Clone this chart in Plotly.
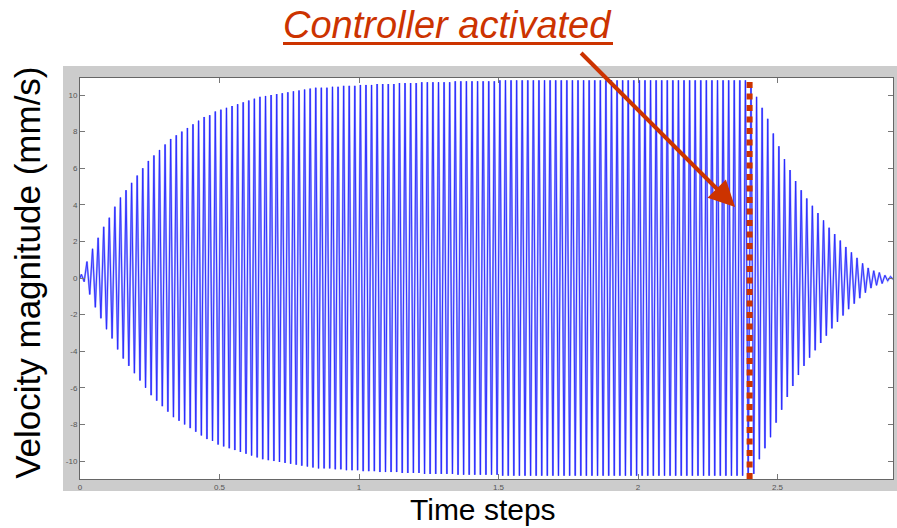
import numpy as np
import plotly.graph_objects as go

# ---------------- data ----------------
# oscillation period (about 50 cycles per time unit)
period = 0.02
# peak amplitude of each cycle (mm/s), read from the envelope
peak_amplitude = [
    0.2, 0.9, 1.6, 2.2, 2.8, 3.3, 3.9, 4.4, 4.8, 5.2,
    5.6, 6.0, 6.4, 6.7, 7.0, 7.3, 7.6, 7.8, 8.0, 8.2,
    8.4, 8.6, 8.8, 8.9, 9.1, 9.2, 9.3, 9.4, 9.5, 9.6,
    9.7, 9.8, 9.9, 9.95, 10.0, 10.05, 10.1, 10.15, 10.2, 10.25,
    10.3, 10.35, 10.4, 10.4, 10.4, 10.45, 10.45, 10.5, 10.5, 10.5,
    10.55, 10.55, 10.55, 10.6, 10.6, 10.6, 10.6, 10.65, 10.65, 10.65,
    10.65, 10.7, 10.7, 10.7, 10.7, 10.7, 10.7, 10.75, 10.75, 10.75,
    10.75, 10.75, 10.75, 10.75, 10.75, 10.8, 10.8, 10.8, 10.8, 10.8,
    10.8, 10.8, 10.8, 10.8, 10.8, 10.8, 10.8, 10.8, 10.8, 10.8,
    10.8, 10.8, 10.8, 10.8, 10.8, 10.8, 10.8, 10.8, 10.8, 10.8,
    10.8, 10.8, 10.8, 10.8, 10.8, 10.8, 10.8, 10.8, 10.8, 10.8,
    10.8, 10.8, 10.8, 10.8, 10.8, 10.8, 10.8, 10.8, 10.8, 10.8,
    10.7, 9.9, 9.3, 8.7, 7.9, 7.2, 6.5, 5.9, 5.3, 4.8,
    4.35, 3.95, 3.55, 3.15, 2.75, 2.4, 2.05, 1.7, 1.4, 1.1,
    0.8, 0.55, 0.4, 0.3, 0.15, 0.08,
]
controller_time = 2.4

x_tick_values = [0, 0.5, 1, 1.5, 2, 2.5]
x_tick_labels = ["0", "0.5", "1", "1.5", "2", "2.5"]
y_tick_values = [-10, -8, -6, -4, -2, 0, 2, 4, 6, 8, 10]
y_tick_labels = ["-10", "-8", "-6", "-4", "-2", "0", "2", "4", "6", "8", "10"]
x_range = [0, 2.914]
y_range = [-10.98, 10.93]

title_text = "Controller activated"
x_title = "Time steps"
y_title = "Velocity magnitude (mm/s)"

# ---------------- build the signal (peak / trough per cycle) ----------------
amp = np.array(peak_amplitude)
k = np.arange(len(amp))
t = np.empty(2 * len(amp) + 1)
v = np.empty(2 * len(amp) + 1)
t[0], v[0] = 0.0, 0.0
t[1::2] = (k + 0.25) * period
v[1::2] = amp
t[2::2] = (k + 0.75) * period
v[2::2] = -amp

ACC = "#CC3300"
FONT = "Liberation Sans, Arial, Helvetica, sans-serif"

fig = go.Figure()
# soft light-blue body of the dense oscillation
fig.add_trace(go.Scatter(
    x=t, y=v, mode="lines",
    line=dict(color="rgb(160,165,255)", width=2.0),
    hoverinfo="skip", showlegend=False,
))
# sharp blue strokes on top
fig.add_trace(go.Scatter(
    x=t, y=v, mode="lines",
    line=dict(color="rgb(40,40,255)", width=0.9),
    hoverinfo="skip", showlegend=False,
))

axis_common = dict(
    showgrid=False, zeroline=False, showline=True, linecolor="#666666",
    linewidth=1, mirror="ticks", ticks="inside", ticklen=5, tickwidth=1,
    tickcolor="#777777", tickfont=dict(family=FONT, size=8, color="#555555"),
)

fig.update_layout(
    width=897, height=528,
    margin=dict(l=80, r=4, t=78, b=49),
    paper_bgcolor="white", plot_bgcolor="white",
    xaxis=dict(range=x_range, tickvals=x_tick_values, ticktext=x_tick_labels,
               **axis_common),
    yaxis=dict(range=y_range, tickvals=y_tick_values, ticktext=y_tick_labels,
               **axis_common),
    shapes=[
        # grey figure frame (MATLAB style)
        dict(type="rect", xref="paper", yref="paper", x0=-0.0209, x1=1.006,
             y0=-0.030, y1=1.030, fillcolor="#CCCCCC", line=dict(width=0),
             layer="below"),
        dict(type="rect", xref="paper", yref="paper", x0=0, x1=1, y0=0, y1=1,
             fillcolor="white", line=dict(width=0), layer="below"),
        # controller activation line
        dict(type="line", xref="x", yref="paper", x0=controller_time,
             x1=controller_time, y0=0, y1=1,
             line=dict(color=ACC, width=6, dash="6px,5.5px"), layer="above"),
        # underline of the callout text
        dict(type="line", xref="paper", yref="paper", x0=0.2497, x1=0.6556,
             y0=1.086, y1=1.086, line=dict(color=ACC, width=3)),
    ],
    annotations=[
        dict(text="<i>" + title_text + "</i>", xref="paper", yref="paper",
             x=0.4526, y=1.131, xanchor="center", yanchor="middle",
             showarrow=False, font=dict(family=FONT, size=38, color=ACC)),
        dict(text=" ", x=2.348, y=3.88, xref="x", yref="y",
             ax=-157, ay=-157, showarrow=True, arrowhead=2, arrowsize=1.3,
             arrowwidth=4, arrowcolor=ACC, standoff=0, startstandoff=0),
        dict(text=x_title, xref="paper", yref="paper", x=0.4963, y=-0.077,
             xanchor="center", yanchor="middle", showarrow=False,
             font=dict(family=FONT, size=30, color="black")),
        dict(text=y_title, xref="paper", yref="paper", x=-0.064, y=0.514,
             xanchor="center", yanchor="middle", showarrow=False,
             textangle=-90, font=dict(family=FONT, size=35, color="black")),
    ],
)

fig.write_html(
    "out.html",
    config={"displayModeBar": False},
    post_script="document.body.style.margin='0px';document.body.style.overflow='hidden';",
)
